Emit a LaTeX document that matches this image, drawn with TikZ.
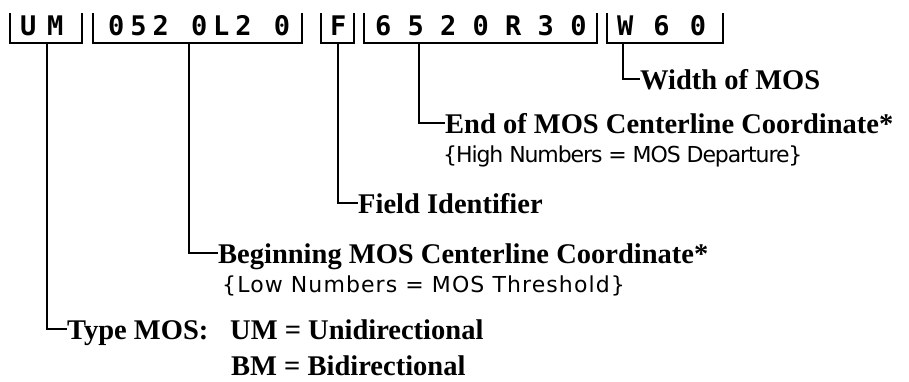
\documentclass[tikz,border=0pt]{standalone}
\usepackage{fontspec}
\setmainfont{Liberation Serif}
\newfontfamily\notefont{DejaVu Sans}
\newfontfamily\codefont{DejaVu Sans Mono}
\begin{document}
\begin{tikzpicture}[x=1pt,y=-1pt,
  bracket/.style={line width=2.6pt},
  stem/.style={line width=1.3pt},
  code/.style={font=\codefont\bfseries\fontsize{27}{27}\selectfont, inner sep=0pt, anchor=base west},
  lab/.style={font=\bfseries\fontsize{28.5}{30}\selectfont, inner sep=0pt, anchor=base west, text height=20pt, text depth=0pt},
  note/.style={font=\notefont\fontsize{22}{24}\selectfont, inner sep=0pt, anchor=base west}]
\fill[white] (0,0) rectangle (909,381);
\useasboundingbox (0,0) rectangle (909,381);
% code fields
\node[code] (c1) at (20,35) {\addfontfeature{LetterSpace=40}UM};
\node[code] (c2) at (108,35) {\addfontfeature{LetterSpace=22}052 0L2 0};
\node[code] (c3) at (330,35) {F};
\node[code] (c4) at (375,35) {6 5 2 0 R 3 0};
\node[code] (c5) at (617,35) {\addfontfeature{LetterSpace=14}W 6 0};
% brackets
\draw[bracket] (10,13) |- (82,43) -- (82,13);
\draw[bracket] (93,13) |- (302,43) -- (302,13);
\draw[bracket] (321,13) |- (354,43) -- (354,13);
\draw[bracket] (364,13) |- (597,43) -- (597,13);
\draw[bracket] (607,13) |- (723,43) -- (723,13);
% stem tops
\coordinate (s1) at (47,43);
\coordinate (s2) at (189,43);
\coordinate (s3) at (338,43);
\coordinate (s4) at (419,43);
\coordinate (s5) at (623,43);
% labels
\node[lab] (wid) at (640,89) {Width of MOS};
\node[lab] (endc) at (445,133) {End of MOS Centerline Coordinate*};
\node[note] (high) at (443,162) {\addfontfeature{LetterSpace=-5}\{High Numbers = MOS Departure\}};
\node[lab] (fid) at (358,213) {Field Identifier};
\node[lab] (beg) at (218,263) {Beginning MOS Centerline Coordinate*};
\node[note] (low) at (222,292) {\addfontfeature{LetterSpace=5}\{Low Numbers = MOS Threshold\}};
\node[lab] (typ) at (67,339) {Type MOS:};
\node[lab] (um) at (230,339) {UM = Unidirectional};
\node[lab] (bm) at (231,375) {BM = Bidirectional};
% connectors
\draw[stem] (s1) |- (typ.west);
\draw[stem] (s2) |- (beg.west);
\draw[stem] (s3) |- (fid.west);
\draw[stem] (s4) |- (endc.west);
\draw[stem] (s5) |- (wid.west);
\end{tikzpicture}
\end{document}
